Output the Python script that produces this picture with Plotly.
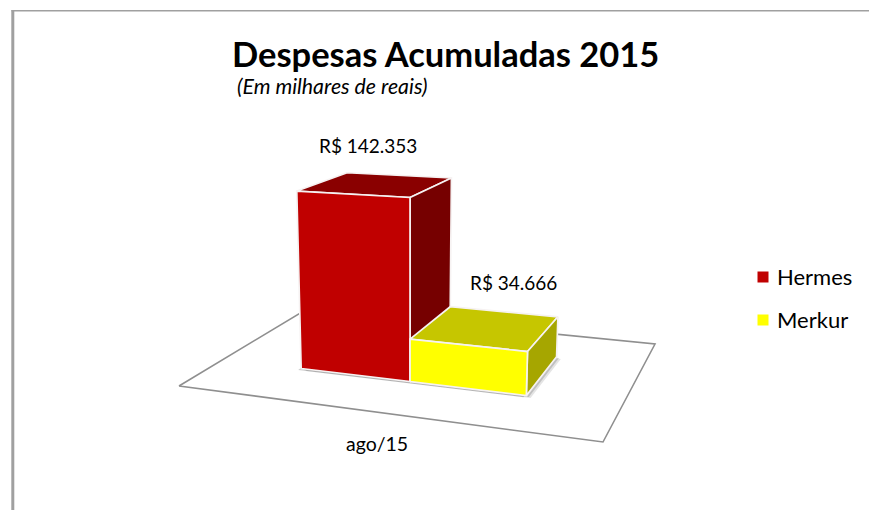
import numpy as np
import plotly.graph_objects as go

# ---- data ----
categories = ["ago/15"]
series_names = ["Hermes", "Merkur"]
hermes_values = [142353]
merkur_values = [34666]
value_labels = ["R$ 142.353", "R$ 34.666"]
title_text = "Despesas Acumuladas 2015"
subtitle_text = "(Em milhares de reais)"

# ---- 3D projection model (floor plane -> picture) ----
FLOOR = np.array([[179, 386], [603, 442], [655, 344], [306.5, 309.2]])  # floor corners
x0, y0 = FLOOR[0]; x1, y1 = FLOOR[1]; x2, y2 = FLOOR[2]; x3, y3 = FLOOR[3]
dx1, dx2, sx = x1 - x2, x3 - x2, x0 - x1 + x2 - x3
dy1, dy2, sy = y1 - y2, y3 - y2, y0 - y1 + y2 - y3
den = dx1 * dy2 - dx2 * dy1
g = (sx * dy2 - dx2 * sy) / den
h = (dx1 * sy - sx * dy1) / den
a, b, c = x1 - x0 + g * x1, x3 - x0 + h * x3, x0
d, e, f = y1 - y0 + g * y1, y3 - y0 + h * y3, y0
VALUE_FLOOR = 2400
VALUE_K = 1.3225e-3
VANISH_X = 410
VANISH_D = 4400


def project(u, v, value=0.0):
    w = 1 + g * u + h * v
    x = (a * u + b * v + c) / w
    y = (d * u + e * v + f) / w
    if value:
        ht = (value - VALUE_FLOOR) * VALUE_K / w
        x = VANISH_X + (x - VANISH_X) * (1 + ht / VANISH_D)
        y = y - ht
    return x, y


def poly(points, fill, line=None, width=0.0):
    xs = [p[0] for p in points] + [points[0][0]]
    ys = [p[1] for p in points] + [points[0][1]]
    return go.Scatter(
        x=xs, y=ys, mode="lines", fill="toself", fillcolor=fill,
        line=dict(color=line or "rgba(0,0,0,0)", width=width),
        hoverinfo="skip", showlegend=False,
    )


V_FRONT, V_BACK = 0.303, 0.731
bars = [
    dict(val=hermes_values[0], u0=0.2165, u1=0.5015,
         front="#C00000", side="#760000", top="#8A0000"),
    dict(val=merkur_values[0], u0=0.5015, u1=0.7840,
         front="#FFFF00", side="#A6A600", top="#C6C600"),
]

fig = go.Figure()

# floor
fig.add_trace(poly([project(0, 0), project(1, 0), project(1, 1), project(0, 1)],
                   "#FFFFFF", "#8F8F8F", 1.6))

# soft shadows under bars
for bar in bars:
    base = [project(bar["u0"], V_FRONT), project(bar["u1"], V_FRONT),
            project(bar["u1"], V_BACK), project(bar["u0"], V_BACK)]
    for off, alpha in ((6, 0.16), (3.5, 0.26)):
        fig.add_trace(poly([(p[0] + off * 0.7, p[1] + off * 0.4) for p in base],
                           f"rgba(90,90,90,{alpha})"))
    fig.add_trace(poly([(p[0] - 3, p[1] + 1.5) for p in base],
                       "rgba(90,90,90,0.3)"))

# bars
for bar in bars:
    v, u0, u1 = bar["val"], bar["u0"], bar["u1"]
    fbl, fbr = project(u0, V_FRONT), project(u1, V_FRONT)
    bbr = project(u1, V_BACK)
    ftl, ftr = project(u0, V_FRONT, v), project(u1, V_FRONT, v)
    btl, btr = project(u0, V_BACK, v), project(u1, V_BACK, v)
    fig.add_trace(poly([ftl, ftr, btr, btl], bar["top"], "#F6F2F2", 1.7))
    fig.add_trace(poly([fbr, bbr, btr, ftr], bar["side"], "#F6F2F2", 1.7))
    fig.add_trace(poly([fbl, fbr, ftr, ftl], bar["front"], "#F6F2F2", 1.7))
    bar["cx"] = (ftl[0] + ftr[0] + btl[0] + btr[0]) / 4
    bar["cy"] = (ftl[1] + ftr[1] + btl[1] + btr[1]) / 4

FONT = "Lato"
BLACK = "#000000"

# legend keys and names
LEG_X, LEG_TEXT_X, LEG_Y = 763, 775, [277, 320]
for name, bar, ly in zip(series_names, bars, LEG_Y):
    fig.add_trace(go.Scatter(
        x=[LEG_X], y=[ly], mode="markers", name=name, showlegend=False,
        marker=dict(symbol="square", size=11, color=bar["front"]),
        hoverinfo="name",
    ))

annotations = [
    dict(x=445, y=53, text=f"<b>{title_text}</b>", height=38,
         font=dict(size=34.5, color=BLACK, family=FONT)),
    dict(x=332.5, y=86, text=f"<i>{subtitle_text}</i>", height=24,
         font=dict(size=21.3, color=BLACK, family=FONT)),
    dict(x=377, y=443, text=categories[0], font=dict(size=19.5, color=BLACK, family=FONT)),
]
label_offsets = [(-8, -39), (27, -46)]
for bar, label, (ox, oy) in zip(bars, value_labels, label_offsets):
    annotations.append(dict(x=bar["cx"] + ox, y=bar["cy"] + oy, text=label,
                            font=dict(size=19, color=BLACK, family=FONT)))
for an in annotations:
    an.update(xanchor="center")
for name, ly in zip(series_names, LEG_Y):
    annotations.append(dict(x=LEG_TEXT_X, y=ly - 1, text=name, xanchor="left",
                            font=dict(size=22, color=BLACK, family=FONT)))
for an in annotations:
    an.update(xref="x", yref="y", showarrow=False, yanchor="middle")

fig.update_layout(
    width=869, height=510, autosize=False, showlegend=False,
    margin=dict(l=0, r=0, t=0, b=0),
    paper_bgcolor="#FFFFFF", plot_bgcolor="#FFFFFF",
    xaxis=dict(range=[0, 869], visible=False, fixedrange=True),
    yaxis=dict(range=[510, 0], visible=False, fixedrange=True),
    annotations=annotations,
    shapes=[
        dict(type="line", xref="x", yref="y", x0=12.8, x1=12.8, y0=10, y1=510,
             line=dict(color="#A0A0A0", width=3)),
        dict(type="line", xref="x", yref="y", x0=11.5, x1=869, y0=10.8, y1=10.8,
             line=dict(color="#A0A0A0", width=1.6)),
    ],
)

fig.write_html("out.html", config={"displayModeBar": False},
               post_script="document.body.style.margin='0';")
